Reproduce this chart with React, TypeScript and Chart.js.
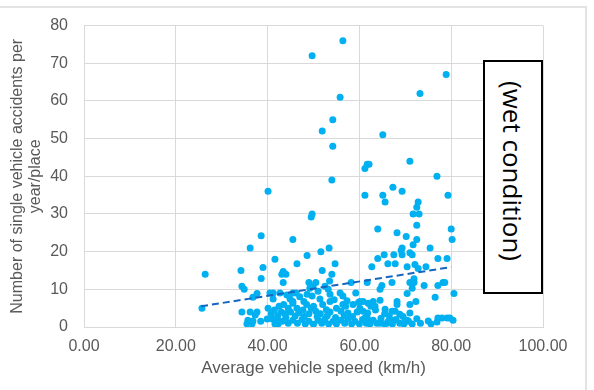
import React, { useEffect, useRef } from "react";
import { Chart, registerables } from "chart.js";

Chart.register(...registerables);

// Average vehicle speed (km/h)
const speed: number[] = [
  56.4, 49.7, 78.9, 73.2, 55.8, 54.2, 51.9, 65.1, 54.2, 61.7, 62.1, 61.2, 71, 76.9, 54, 40.1,
  61.2, 65.1, 67.3, 69.3, 79.3, 65.6, 72.8, 72.5, 71.7, 73, 49.7, 49.5, 72.5, 64, 80, 68.2,
  70.2, 38.6, 45.5, 80.2, 72.5, 71.7, 36.2, 53.4, 75.4, 69.3, 69.1, 51.6, 71, 71.5, 67.5, 69.3,
  65.4, 48.6, 64, 77.1, 79.1, 41.6, 46.4, 54.7, 66.2, 67.8, 72.1, 62.7, 70.4, 74.5, 39, 72.8,
  34.2, 51.9, 43.4, 26.4, 44, 43.1, 54, 38.6, 71.9, 43.4, 49, 50.5, 58.2, 61.7, 67.1, 71,
  71.9, 78.2, 78.6, 53.5, 34.4, 49.9, 52.5, 64.9, 74.1, 77.1, 34.9, 53.2, 64.5, 71.5, 49.2, 37.7,
  40.5, 41.2, 42.7, 45.5, 46.2, 55.8, 70.4, 80.6, 48.6, 53.6, 36.8, 56.4, 49.7, 76.5, 41.2, 51.4,
  44.9, 47.9, 45.5, 53.6, 60.8, 60.1, 63, 64.5, 68.2, 72.3, 45.5, 52, 56.4, 58.6, 68.2, 71,
  25.7, 40.1, 46.4, 34.4, 36.2, 37.7, 37.3, 41.5, 42.5, 43, 43.8, 44.5, 45, 42.2, 44, 46,
  47.7, 49, 50.5, 51.5, 52.8, 53.6, 56, 57.5, 59.5, 61.8, 62.5, 61.3, 63.5, 65.5, 66.5, 67.8,
  69.5, 71, 70, 63.4, 61.9, 65.6, 67.1, 68.8, 70.4, 67.3, 66, 64.5, 61.7, 62.3, 60.1, 60.8,
  47, 48.5, 50, 51, 54.5, 55, 57.3,
  35.5, 36.6, 35.7, 36.8, 39.9, 41, 42, 41.6, 42.3, 43.2, 44.5, 45.5, 46.5, 47.5, 48.2, 49,
  50, 51, 51.8, 52.5, 53.3, 54.3, 55, 56, 56.8, 57.5, 58.3, 59, 60, 60.7, 61.5, 62.3,
  63, 63.8, 64.7, 65.5, 66.3, 67.2, 68, 68.8, 69.7, 70.7, 71.5, 72.5, 73.3, 75, 75.6, 76.9,
  77.1, 78, 79.1, 79.7, 80.4,
  38.5, 40.8, 43.5, 44.2, 46.8, 48, 49.5, 50.8, 52.2, 53, 54.8, 57, 58.5, 59.8, 56.7, 59.2,
];

// Number of single vehicle accidents per year/place
const accidents: number[] = [
  76, 72, 67, 62, 61, 55, 52, 51, 48, 43.2, 43.2, 42.1, 44, 40, 39, 36,
  35, 35, 37.1, 36, 35, 33.2, 33.2, 31.8, 30, 30, 30, 29.2, 27, 26, 26, 25,
  24, 24.2, 23.2, 23.2, 23.2, 21.8, 21, 21, 21, 21, 20.3, 20, 19.7, 19.2, 19.2, 19.2,
  19.2, 19, 18.2, 18.2, 18.2, 18, 16.8, 16.8, 16.8, 16.8, 16.6, 16, 16, 16, 15.8, 15.5,
  15, 15, 14.7, 14, 14, 14, 14, 12.9, 12.8, 11.8, 11.8, 11.8, 11.8, 11.8, 11.8, 11.8,
  11.8, 11.8, 11.8, 12.2, 10.8, 10.8, 10.8, 11, 11, 11, 10, 10, 10, 10.3, 10.3, 8.9,
  9, 9, 9, 9, 9, 9, 8.9, 8.9, 8.7, 8.7, 7.9, 8.2, 8.2, 7.9, 7.4, 7.4,
  7.4, 6.8, 6.8, 6.8, 6.8, 6.8, 6.8, 7.1, 6.8, 6.8, 6.3, 6, 6, 6, 6, 6,
  5, 5, 5, 4, 4, 4, 3.2, 4.5, 5.5, 4, 3.5, 5, 4, 3, 2.5, 2.9,
  4.5, 3.5, 4.2, 3.5, 4.6, 4, 4.2, 3.7, 4, 3.7, 5.5, 2.5, 4.5, 3.5, 3, 4.2,
  2.8, 3.7, 1.8, 5.5, 6.3, 4.7, 4.2, 3.4, 1.8, 1.8, 1, 1, 2.4, 1.6, 5, 4.2,
  8, 6, 5.5, 9.5, 7.2, 5, 7,
  0.8, 0.8, 1.8, 1.6, 2.1, 2.1, 2.1, 0.8, 0.8, 1.5, 1, 1.8, 1, 2, 0.8, 1.5,
  0.7, 1.8, 1, 2.2, 0.8, 1.5, 0.8, 1.8, 1, 2.2, 0.8, 1.5, 0.8, 2, 1, 0.8,
  1.8, 1, 2.3, 0.8, 1.5, 0.8, 2, 1, 0.8, 1.5, 0.8, 2.2, 1, 1.6, 0.8, 1.3,
  2.4, 2.4, 2.4, 2.4, 1.8,
  1.5, 3.5, 6, 8.5, 3.8, 2.8, 5, 2.8, 1.5, 3, 2.5, 5.5, 2.8, 6.5, 3, 9,
];

// Linear trendline end points
const trendSpeed: number[] = [25.5, 80];
const trendAccidents: number[] = [5.5, 15.9];

const xTicks: number[] = [0, 20, 40, 60, 80, 100];
const yTicks: number[] = [0, 10, 20, 30, 40, 50, 60, 70, 80];

const xTitle = "Average vehicle speed (km/h)";
const yTitle = ["Number of single vehicle accidents per", "year/place"];
const boxLabel = "(wet condition)";

const FONT = "'Liberation Sans', Arial, sans-serif";
const GRAY = "#595959";
const GRID = "#d9d9d9";

export default function App() {
  const ref = useRef<HTMLCanvasElement | null>(null);

  useEffect(() => {
    if (!ref.current) return;
    const chart = new Chart(ref.current, {
      type: "scatter",
      data: {
        datasets: [
          {
            type: "line",
            data: trendSpeed.map((x, i) => ({ x, y: trendAccidents[i] })),
            borderColor: "#1565C0",
            borderWidth: 2,
            borderDash: [7, 4],
            pointRadius: 0,
            fill: false,
            order: 0,
          },
          {
            type: "scatter",
            data: speed.map((x, i) => ({ x, y: accidents[i] })),
            backgroundColor: "#00B0F0",
            borderColor: "#00B0F0",
            borderWidth: 0,
            pointRadius: 3.5,
            order: 1,
          },
        ] as any,
      },
      options: {
        animation: false,
        responsive: false,
        layout: { padding: { left: 0, right: 51, top: 21, bottom: 0 } },
        plugins: { legend: { display: false }, tooltip: { enabled: false } },
        scales: {
          x: {
            type: "linear",
            min: 0,
            max: 100,
            afterBuildTicks: (s: any) => {
              s.ticks = xTicks.map((v) => ({ value: v }));
            },
            afterFit: (s: any) => {
              s.height = 63;
            },
            ticks: {
              callback: (v: any) => Number(v).toFixed(2),
              font: { family: FONT, size: 16 },
              color: GRAY,
              padding: 10,
            },
            grid: { color: GRID, drawTicks: false, lineWidth: 1 },
            border: { color: GRID },
            title: {
              display: true,
              text: xTitle,
              font: { family: FONT, size: 17, lineHeight: 1.2 },
              color: GRAY,
              padding: { top: 0, bottom: 11 },
            },
          },
          y: {
            type: "linear",
            min: 0,
            max: 80,
            afterBuildTicks: (s: any) => {
              s.ticks = yTicks.map((v) => ({ value: v }));
            },
            afterFit: (s: any) => {
              s.width = 84;
            },
            ticks: {
              font: { family: FONT, size: 16 },
              color: GRAY,
              padding: 16,
            },
            grid: { color: GRID, drawTicks: false, lineWidth: 1 },
            border: { color: GRID },
            title: {
              display: true,
              text: yTitle,
              font: { family: FONT, size: 16, lineHeight: 1.15 },
              color: GRAY,
              padding: { top: 8, bottom: 0 },
            },
          },
        },
      },
    });
    return () => chart.destroy();
  }, []);

  return (
    <div style={{ position: "fixed", left: 0, top: 0, width: 594, height: 390, background: "#fff" }}>
      <div
        style={{
          position: "absolute",
          left: 0,
          top: 6,
          width: 585,
          height: 400,
          borderTop: "2px solid #e3e3e3",
          borderRight: "2px solid #e3e3e3",
        }}
      />
      <canvas ref={ref} width={594} height={390} style={{ position: "absolute", left: 0, top: 0, display: "block" }} />
      <div
        style={{
          position: "absolute",
          left: 483,
          top: 60,
          width: 56,
          height: 230,
          border: "2px solid #000",
          background: "#fff",
          display: "flex",
          alignItems: "flex-start",
          justifyContent: "center",
        }}
      >
        <span
          style={{
            writingMode: "vertical-rl",
            fontFamily: "'Open Sans', sans-serif",
            fontSize: 26,
            color: "#000",
            marginTop: 19,
            lineHeight: 1,
            whiteSpace: "nowrap",
          }}
        >
          {boxLabel}
        </span>
      </div>
    </div>
  );
}
